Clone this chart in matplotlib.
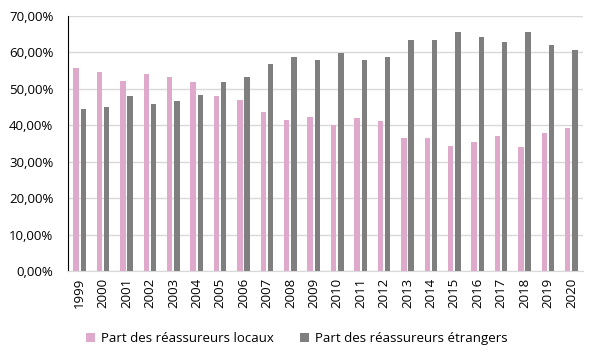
import matplotlib
matplotlib.use("Agg")
import matplotlib.pyplot as plt
import numpy as np
from matplotlib.ticker import FuncFormatter

years = [str(y) for y in range(1999, 2021)]
locaux = [55.7, 54.6, 52.2, 54.1, 53.2, 51.9, 48.0, 46.9, 43.6, 41.4, 42.2,
          40.0, 41.9, 41.3, 36.6, 36.6, 34.4, 35.4, 37.1, 34.1, 37.9, 39.4]
etrangers = [44.5, 45.0, 48.0, 45.8, 46.7, 48.3, 51.9, 53.2, 56.8, 58.7, 57.8,
             59.9, 57.8, 58.7, 63.4, 63.4, 65.6, 64.2, 62.9, 65.6, 62.1, 60.6]
labels = ["Part des réassureurs locaux", "Part des réassureurs étrangers"]

plt.rcParams['font.family'] = ['Open Sans', 'DejaVu Sans']
fig = plt.figure(figsize=(6, 3.57), dpi=100)
ax = fig.add_axes([0.1133, 0.2409, 0.8584, 0.7141])

x = np.arange(len(years))
w = 0.23
ax.bar(x - 0.155, locaux, w, color='#DEA9CB', label=labels[0], zorder=3)
ax.bar(x + 0.155, etrangers, w, color='#7F7F7F', label=labels[1], zorder=3)

ax.set_ylim(0, 70)
ax.set_xlim(-0.5, len(years) - 0.5)
ax.set_yticks(np.arange(0, 71, 10))
ax.yaxis.set_major_formatter(FuncFormatter(lambda v, p: f"{v:.2f}".replace('.', ',') + "%"))
ax.grid(axis='y', color='#D9D9D9', linewidth=1, zorder=0)
ax.set_xticks(x)
ax.set_xticklabels(years, rotation=90)
ax.tick_params(axis='both', length=0, labelsize=9.5, colors='#000000')
ax.tick_params(axis='y', pad=10.5)
ax.tick_params(axis='x', pad=5)
for s in ['top', 'right']:
    ax.spines[s].set_visible(False)
ax.spines['left'].set_color('#000000')
ax.spines['bottom'].set_color('#D9D9D9')

fig.legend(loc='lower center', bbox_to_anchor=(0.495, 0.0), ncol=2, frameon=False,
           fontsize=9.5, handlelength=0.65, handleheight=0.65, columnspacing=2.0,
           handletextpad=0.5)

fig.savefig("out.png", dpi=100)
